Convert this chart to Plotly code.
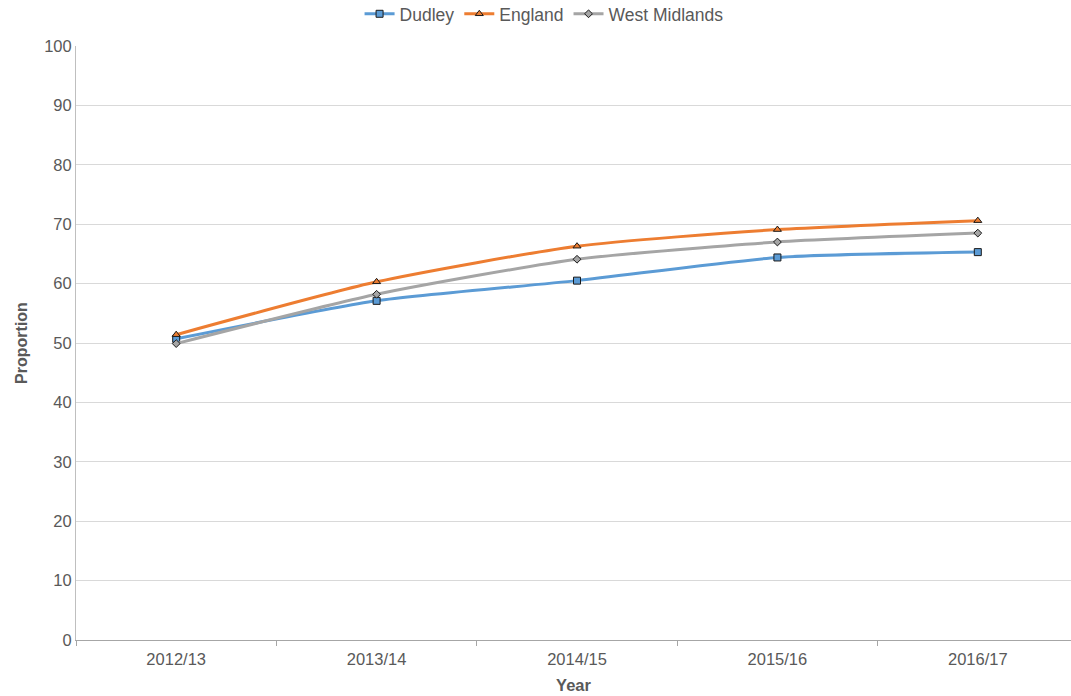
import plotly.graph_objects as go

years = ["2012/13", "2013/14", "2014/15", "2015/16", "2016/17"]
dudley = [50.7, 57.1, 60.5, 64.4, 65.3]
england = [51.4, 60.3, 66.3, 69.1, 70.6]
west_midlands = [49.9, 58.2, 64.1, 67.0, 68.5]
y_ticks = list(range(0, 101, 10))

series = [
    ("Dudley", dudley, "#5b9bd5", "square", 7),
    ("England", england, "#ed7d31", "triangle-up", 7),
    ("West Midlands", west_midlands, "#a5a5a5", "diamond", 6),
]

fig = go.Figure()
for name, vals, color, symbol, size in series:
    fig.add_trace(go.Scatter(
        x=years, y=vals, name=name, mode="lines+markers",
        line=dict(color=color, width=3, shape="spline", smoothing=0.6),
        marker=dict(symbol=symbol, size=size, color=color,
                    line=dict(color="#1a1a1a", width=1)),
    ))

font_family = "Liberation Sans, Arial, sans-serif"
text_color = "#595959"
fig.update_layout(
    width=1071, height=696,
    margin=dict(l=76, r=0, t=46, b=56),
    paper_bgcolor="white", plot_bgcolor="white",
    font=dict(family=font_family, size=16, color=text_color),
    showlegend=True,
    legend=dict(orientation="h", xref="container", yref="container",
                x=0.508, xanchor="center", y=0.98, yanchor="middle",
                font=dict(size=17.5, color=text_color),
                itemwidth=30, tracegroupgap=0,
                entrywidth=0, entrywidthmode="pixels"),
    xaxis=dict(
        type="category", range=[-0.5, 4.465],
        showline=True, linecolor="#a6a6a6", linewidth=1,
        ticks="outside", tickson="boundaries", ticklen=5, tickcolor="#a6a6a6",
        ticklabelstandoff=4,
        showgrid=False, zeroline=False,
        title=dict(text="<b>Year</b>", font=dict(size=16.5, color=text_color), standoff=12),
        tickfont=dict(size=16.5, color=text_color),
    ),
    yaxis=dict(
        range=[0, 100], tickvals=y_ticks, ticks="",
        showline=True, linecolor="#bfbfbf", linewidth=1,
        showgrid=True, gridcolor="#d9d9d9", gridwidth=1,
        zeroline=False,
        title=dict(text="<b>Proportion</b>", font=dict(size=16, color=text_color), standoff=12),
        tickfont=dict(size=16.5, color=text_color),
    ),
)

fig.write_html("out.html")
